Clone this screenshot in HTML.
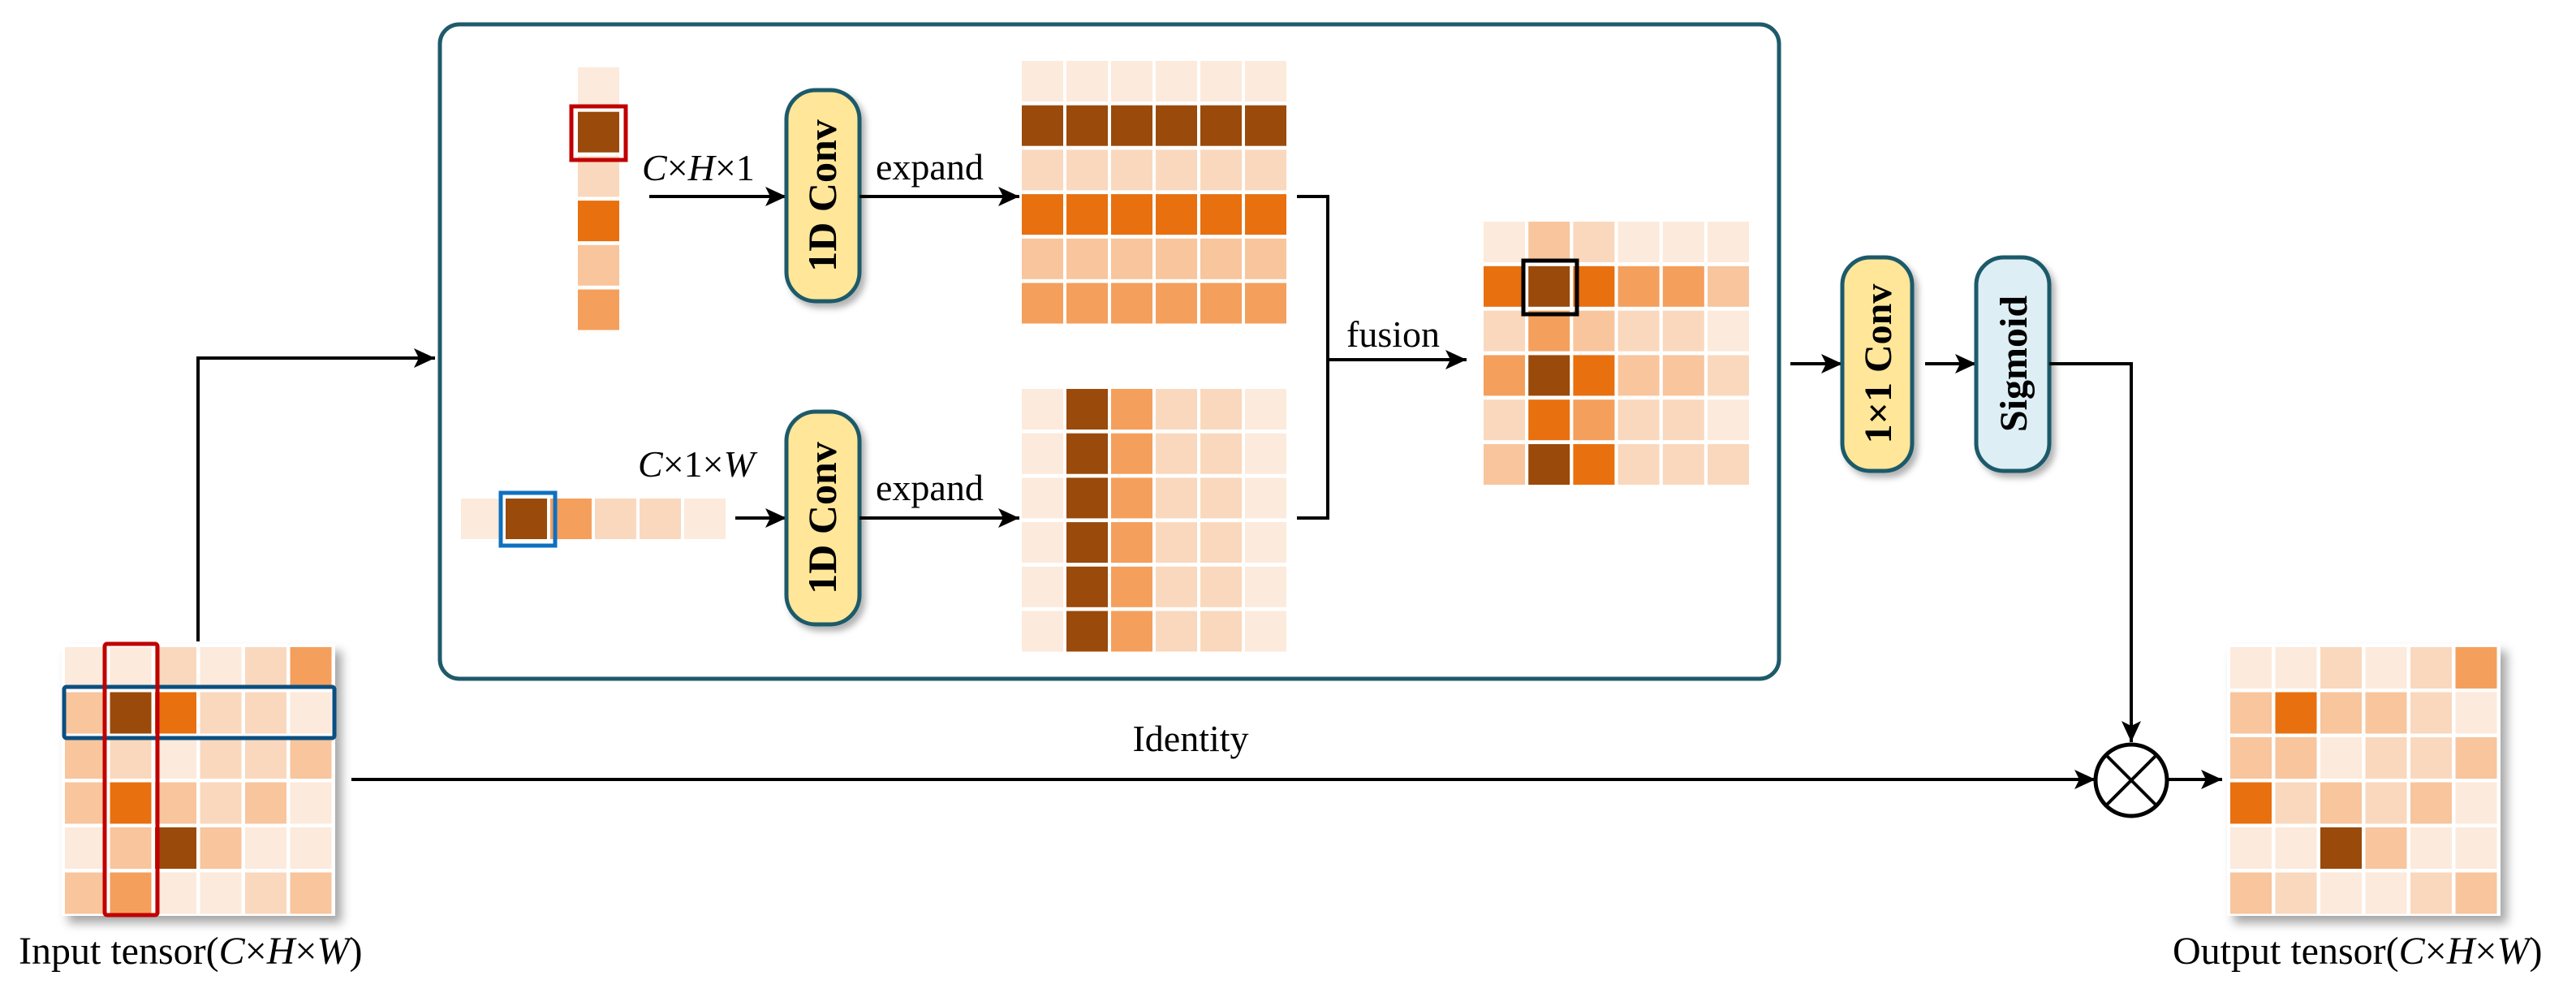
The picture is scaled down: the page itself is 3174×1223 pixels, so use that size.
<!DOCTYPE html>
<html><head><meta charset="utf-8"><style>
html,body{margin:0;padding:0;background:#fff}
svg{display:block}
.a{fill:#FCEADC}.b{fill:#FAD8BD}.c{fill:#F8C59D}.d{fill:#F49F5C}.e{fill:#E8700F}.f{fill:#9A4A0A}
text{font-family:"Liberation Serif",serif;fill:#000}
.ln{stroke:#000;stroke-width:4;fill:none}
</style></head><body>
<svg width="3174" height="1223" viewBox="0 0 3174 1223" xmlns="http://www.w3.org/2000/svg">
<defs>
<marker id="ar" markerUnits="userSpaceOnUse" markerWidth="28" markerHeight="24" refX="26" refY="12" orient="auto"><path d="M0,0 L26,12 L0,24 L6,12 Z" fill="#000"/></marker>
<filter id="sh" x="-10%" y="-10%" width="130%" height="130%"><feDropShadow dx="8" dy="9" stdDeviation="6" flood-color="#000" flood-opacity="0.35"/></filter>
<filter id="sh2" x="-20%" y="-10%" width="150%" height="130%"><feDropShadow dx="5" dy="6" stdDeviation="4" flood-color="#000" flood-opacity="0.3"/></filter>
</defs>

<!-- main box -->
<rect x="542" y="30" width="1650" height="806" rx="24" fill="#fff" stroke="#1F5A6A" stroke-width="5"/>

<!-- input grid -->
<g transform="translate(80,797)">
<rect x="-4" y="-4" width="337" height="335" fill="#fff" filter="url(#sh)"/>
<rect class="a" x="0" y="0" width="51" height="51"/><rect class="a" x="55.5" y="0" width="51" height="51"/><rect class="b" x="111" y="0" width="51" height="51"/><rect class="a" x="166.5" y="0" width="51" height="51"/><rect class="b" x="222" y="0" width="51" height="51"/><rect class="d" x="277.5" y="0" width="51" height="51"/>
<rect class="c" x="0" y="55.5" width="51" height="51"/><rect class="f" x="55.5" y="55.5" width="51" height="51"/><rect class="e" x="111" y="55.5" width="51" height="51"/><rect class="b" x="166.5" y="55.5" width="51" height="51"/><rect class="b" x="222" y="55.5" width="51" height="51"/><rect class="a" x="277.5" y="55.5" width="51" height="51"/>
<rect class="c" x="0" y="111" width="51" height="51"/><rect class="b" x="55.5" y="111" width="51" height="51"/><rect class="a" x="111" y="111" width="51" height="51"/><rect class="b" x="166.5" y="111" width="51" height="51"/><rect class="b" x="222" y="111" width="51" height="51"/><rect class="c" x="277.5" y="111" width="51" height="51"/>
<rect class="c" x="0" y="166.5" width="51" height="51"/><rect class="e" x="55.5" y="166.5" width="51" height="51"/><rect class="c" x="111" y="166.5" width="51" height="51"/><rect class="b" x="166.5" y="166.5" width="51" height="51"/><rect class="c" x="222" y="166.5" width="51" height="51"/><rect class="a" x="277.5" y="166.5" width="51" height="51"/>
<rect class="a" x="0" y="222" width="51" height="51"/><rect class="c" x="55.5" y="222" width="51" height="51"/><rect class="f" x="111" y="222" width="51" height="51"/><rect class="c" x="166.5" y="222" width="51" height="51"/><rect class="a" x="222" y="222" width="51" height="51"/><rect class="a" x="277.5" y="222" width="51" height="51"/>
<rect class="c" x="0" y="277.5" width="51" height="51"/><rect class="d" x="55.5" y="277.5" width="51" height="51"/><rect class="a" x="111" y="277.5" width="51" height="51"/><rect class="a" x="166.5" y="277.5" width="51" height="51"/><rect class="b" x="222" y="277.5" width="51" height="51"/><rect class="c" x="277.5" y="277.5" width="51" height="51"/>
</g>
<rect x="79" y="846" width="333" height="63" rx="3" fill="none" stroke="#0B4F80" stroke-width="5"/>
<rect x="129" y="793" width="65" height="334" rx="3" fill="none" stroke="#C00000" stroke-width="5"/>
<text x="23" y="1187" font-size="48">Input tensor(<tspan font-style="italic">C</tspan>×<tspan font-style="italic">H</tspan>×<tspan font-style="italic">W</tspan>)</text>

<!-- left connector -->
<path class="ln" d="M244,790 L244,441 L536,441" marker-end="url(#ar)"/>
<!-- identity -->
<path class="ln" d="M433,960 L2582,960" marker-end="url(#ar)"/>
<text x="1467" y="925" font-size="46" text-anchor="middle">Identity</text>

<!-- top strip -->
<g transform="translate(712,83)">
<rect class="a" x="0" y="0" width="51" height="50"/><rect class="f" x="0" y="54.7" width="51" height="50"/><rect class="b" x="0" y="109.4" width="51" height="50"/><rect class="e" x="0" y="164.1" width="51" height="50"/><rect class="c" x="0" y="218.8" width="51" height="50"/><rect class="d" x="0" y="273.5" width="51" height="50"/>
</g>
<rect x="704" y="131" width="67" height="66" fill="none" stroke="#C00000" stroke-width="5"/>
<text x="791" y="222" font-size="46"><tspan font-style="italic">C</tspan>×<tspan font-style="italic">H</tspan>×1</text>
<path class="ln" d="M800,242 L969,242" marker-end="url(#ar)"/>
<rect x="969" y="111" width="90" height="260" rx="36" fill="#FFE699" stroke="#1F5A6A" stroke-width="5" filter="url(#sh2)"/>
<text transform="translate(1030,241) rotate(-90)" font-size="50" font-weight="bold" text-anchor="middle">1D Conv</text>
<path class="ln" d="M1059,242 L1256,242" marker-end="url(#ar)"/>
<text x="1079" y="221" font-size="46">expand</text>

<!-- top grid -->
<g transform="translate(1259,75)">
<rect class="a" x="0" y="0" width="51" height="50"/><rect class="a" x="55" y="0" width="51" height="50"/><rect class="a" x="110" y="0" width="51" height="50"/><rect class="a" x="165" y="0" width="51" height="50"/><rect class="a" x="220" y="0" width="51" height="50"/><rect class="a" x="275" y="0" width="51" height="50"/>
<rect class="f" x="0" y="54.7" width="51" height="50"/><rect class="f" x="55" y="54.7" width="51" height="50"/><rect class="f" x="110" y="54.7" width="51" height="50"/><rect class="f" x="165" y="54.7" width="51" height="50"/><rect class="f" x="220" y="54.7" width="51" height="50"/><rect class="f" x="275" y="54.7" width="51" height="50"/>
<rect class="b" x="0" y="109.4" width="51" height="50"/><rect class="b" x="55" y="109.4" width="51" height="50"/><rect class="b" x="110" y="109.4" width="51" height="50"/><rect class="b" x="165" y="109.4" width="51" height="50"/><rect class="b" x="220" y="109.4" width="51" height="50"/><rect class="b" x="275" y="109.4" width="51" height="50"/>
<rect class="e" x="0" y="164.1" width="51" height="50"/><rect class="e" x="55" y="164.1" width="51" height="50"/><rect class="e" x="110" y="164.1" width="51" height="50"/><rect class="e" x="165" y="164.1" width="51" height="50"/><rect class="e" x="220" y="164.1" width="51" height="50"/><rect class="e" x="275" y="164.1" width="51" height="50"/>
<rect class="c" x="0" y="218.8" width="51" height="50"/><rect class="c" x="55" y="218.8" width="51" height="50"/><rect class="c" x="110" y="218.8" width="51" height="50"/><rect class="c" x="165" y="218.8" width="51" height="50"/><rect class="c" x="220" y="218.8" width="51" height="50"/><rect class="c" x="275" y="218.8" width="51" height="50"/>
<rect class="d" x="0" y="273.5" width="51" height="50"/><rect class="d" x="55" y="273.5" width="51" height="50"/><rect class="d" x="110" y="273.5" width="51" height="50"/><rect class="d" x="165" y="273.5" width="51" height="50"/><rect class="d" x="220" y="273.5" width="51" height="50"/><rect class="d" x="275" y="273.5" width="51" height="50"/>
</g>

<!-- bottom strip -->
<g transform="translate(568,614)">
<rect class="a" x="0" y="0" width="51" height="50"/><rect class="f" x="55" y="0" width="51" height="50"/><rect class="d" x="110" y="0" width="51" height="50"/><rect class="b" x="165" y="0" width="51" height="50"/><rect class="b" x="220" y="0" width="51" height="50"/><rect class="a" x="275" y="0" width="51" height="50"/>
</g>
<rect x="617" y="607" width="67" height="65" fill="none" stroke="#0F70C0" stroke-width="5"/>
<text x="786" y="587" font-size="46"><tspan font-style="italic">C</tspan>×1×<tspan font-style="italic">W</tspan></text>
<path class="ln" d="M906,638 L969,638" marker-end="url(#ar)"/>
<rect x="969" y="507" width="90" height="262" rx="36" fill="#FFE699" stroke="#1F5A6A" stroke-width="5" filter="url(#sh2)"/>
<text transform="translate(1030,638) rotate(-90)" font-size="50" font-weight="bold" text-anchor="middle">1D Conv</text>
<path class="ln" d="M1059,638 L1256,638" marker-end="url(#ar)"/>
<text x="1079" y="616" font-size="46">expand</text>

<!-- bottom grid -->
<g transform="translate(1259,479)">
<rect class="a" x="0" y="0" width="51" height="50"/><rect class="f" x="55" y="0" width="51" height="50"/><rect class="d" x="110" y="0" width="51" height="50"/><rect class="b" x="165" y="0" width="51" height="50"/><rect class="b" x="220" y="0" width="51" height="50"/><rect class="a" x="275" y="0" width="51" height="50"/>
<rect class="a" x="0" y="54.7" width="51" height="50"/><rect class="f" x="55" y="54.7" width="51" height="50"/><rect class="d" x="110" y="54.7" width="51" height="50"/><rect class="b" x="165" y="54.7" width="51" height="50"/><rect class="b" x="220" y="54.7" width="51" height="50"/><rect class="a" x="275" y="54.7" width="51" height="50"/>
<rect class="a" x="0" y="109.4" width="51" height="50"/><rect class="f" x="55" y="109.4" width="51" height="50"/><rect class="d" x="110" y="109.4" width="51" height="50"/><rect class="b" x="165" y="109.4" width="51" height="50"/><rect class="b" x="220" y="109.4" width="51" height="50"/><rect class="a" x="275" y="109.4" width="51" height="50"/>
<rect class="a" x="0" y="164.1" width="51" height="50"/><rect class="f" x="55" y="164.1" width="51" height="50"/><rect class="d" x="110" y="164.1" width="51" height="50"/><rect class="b" x="165" y="164.1" width="51" height="50"/><rect class="b" x="220" y="164.1" width="51" height="50"/><rect class="a" x="275" y="164.1" width="51" height="50"/>
<rect class="a" x="0" y="218.8" width="51" height="50"/><rect class="f" x="55" y="218.8" width="51" height="50"/><rect class="d" x="110" y="218.8" width="51" height="50"/><rect class="b" x="165" y="218.8" width="51" height="50"/><rect class="b" x="220" y="218.8" width="51" height="50"/><rect class="a" x="275" y="218.8" width="51" height="50"/>
<rect class="a" x="0" y="273.5" width="51" height="50"/><rect class="f" x="55" y="273.5" width="51" height="50"/><rect class="d" x="110" y="273.5" width="51" height="50"/><rect class="b" x="165" y="273.5" width="51" height="50"/><rect class="b" x="220" y="273.5" width="51" height="50"/><rect class="a" x="275" y="273.5" width="51" height="50"/>
</g>

<!-- bracket + fusion -->
<path class="ln" d="M1598,242 L1636,242 L1636,638 L1598,638"/>
<path class="ln" d="M1636,443 L1807,443" marker-end="url(#ar)"/>
<text x="1659" y="427" font-size="46">fusion</text>

<!-- fused grid -->
<g transform="translate(1828,273)">
<rect class="a" x="0" y="0" width="51" height="50"/><rect class="c" x="55.2" y="0" width="51" height="50"/><rect class="b" x="110.4" y="0" width="51" height="50"/><rect class="a" x="165.6" y="0" width="51" height="50"/><rect class="a" x="220.8" y="0" width="51" height="50"/><rect class="a" x="276" y="0" width="51" height="50"/>
<rect class="e" x="0" y="54.8" width="51" height="50"/><rect class="f" x="55.2" y="54.8" width="51" height="50"/><rect class="e" x="110.4" y="54.8" width="51" height="50"/><rect class="d" x="165.6" y="54.8" width="51" height="50"/><rect class="d" x="220.8" y="54.8" width="51" height="50"/><rect class="c" x="276" y="54.8" width="51" height="50"/>
<rect class="b" x="0" y="109.6" width="51" height="50"/><rect class="d" x="55.2" y="109.6" width="51" height="50"/><rect class="c" x="110.4" y="109.6" width="51" height="50"/><rect class="b" x="165.6" y="109.6" width="51" height="50"/><rect class="b" x="220.8" y="109.6" width="51" height="50"/><rect class="a" x="276" y="109.6" width="51" height="50"/>
<rect class="d" x="0" y="164.4" width="51" height="50"/><rect class="f" x="55.2" y="164.4" width="51" height="50"/><rect class="e" x="110.4" y="164.4" width="51" height="50"/><rect class="c" x="165.6" y="164.4" width="51" height="50"/><rect class="c" x="220.8" y="164.4" width="51" height="50"/><rect class="b" x="276" y="164.4" width="51" height="50"/>
<rect class="b" x="0" y="219.2" width="51" height="50"/><rect class="e" x="55.2" y="219.2" width="51" height="50"/><rect class="d" x="110.4" y="219.2" width="51" height="50"/><rect class="b" x="165.6" y="219.2" width="51" height="50"/><rect class="b" x="220.8" y="219.2" width="51" height="50"/><rect class="a" x="276" y="219.2" width="51" height="50"/>
<rect class="c" x="0" y="274" width="51" height="50"/><rect class="f" x="55.2" y="274" width="51" height="50"/><rect class="e" x="110.4" y="274" width="51" height="50"/><rect class="b" x="165.6" y="274" width="51" height="50"/><rect class="b" x="220.8" y="274" width="51" height="50"/><rect class="b" x="276" y="274" width="51" height="50"/>
</g>
<rect x="1877" y="321" width="66" height="66" fill="none" stroke="#000" stroke-width="5"/>

<!-- 1x1 conv & sigmoid -->
<path class="ln" d="M2206,448 L2270,448" marker-end="url(#ar)"/>
<rect x="2270" y="317" width="86" height="263" rx="34" fill="#FFE699" stroke="#1F5A6A" stroke-width="5" filter="url(#sh2)"/>
<text transform="translate(2330,448) rotate(-90)" font-size="48" font-weight="bold" text-anchor="middle">1×1 Conv</text>
<path class="ln" d="M2372,448 L2435,448" marker-end="url(#ar)"/>
<rect x="2435" y="317" width="90" height="263" rx="34" fill="#DDEEF4" stroke="#1F5A6A" stroke-width="5" filter="url(#sh2)"/>
<text transform="translate(2497,448) rotate(-90)" font-size="48" font-weight="bold" text-anchor="middle">Sigmoid</text>
<path class="ln" d="M2525,448 L2626,448 L2626,914" marker-end="url(#ar)"/>

<!-- multiply -->
<circle cx="2626" cy="961" r="44" fill="#fff" stroke="#000" stroke-width="5"/>
<path d="M2595,930 L2657,992 M2657,930 L2595,992" stroke="#000" stroke-width="4"/>
<path class="ln" d="M2670,960 L2738,960" marker-end="url(#ar)"/>

<!-- output grid -->
<g transform="translate(2748,797)">
<rect x="-4" y="-4" width="337" height="335" fill="#fff" filter="url(#sh)"/>
<rect class="a" x="0" y="0" width="51" height="51"/><rect class="a" x="55.5" y="0" width="51" height="51"/><rect class="b" x="111" y="0" width="51" height="51"/><rect class="a" x="166.5" y="0" width="51" height="51"/><rect class="b" x="222" y="0" width="51" height="51"/><rect class="d" x="277.5" y="0" width="51" height="51"/>
<rect class="c" x="0" y="55.5" width="51" height="51"/><rect class="e" x="55.5" y="55.5" width="51" height="51"/><rect class="c" x="111" y="55.5" width="51" height="51"/><rect class="c" x="166.5" y="55.5" width="51" height="51"/><rect class="b" x="222" y="55.5" width="51" height="51"/><rect class="a" x="277.5" y="55.5" width="51" height="51"/>
<rect class="c" x="0" y="111" width="51" height="51"/><rect class="c" x="55.5" y="111" width="51" height="51"/><rect class="a" x="111" y="111" width="51" height="51"/><rect class="b" x="166.5" y="111" width="51" height="51"/><rect class="b" x="222" y="111" width="51" height="51"/><rect class="c" x="277.5" y="111" width="51" height="51"/>
<rect class="e" x="0" y="166.5" width="51" height="51"/><rect class="b" x="55.5" y="166.5" width="51" height="51"/><rect class="c" x="111" y="166.5" width="51" height="51"/><rect class="b" x="166.5" y="166.5" width="51" height="51"/><rect class="c" x="222" y="166.5" width="51" height="51"/><rect class="a" x="277.5" y="166.5" width="51" height="51"/>
<rect class="a" x="0" y="222" width="51" height="51"/><rect class="a" x="55.5" y="222" width="51" height="51"/><rect class="f" x="111" y="222" width="51" height="51"/><rect class="c" x="166.5" y="222" width="51" height="51"/><rect class="a" x="222" y="222" width="51" height="51"/><rect class="a" x="277.5" y="222" width="51" height="51"/>
<rect class="c" x="0" y="277.5" width="51" height="51"/><rect class="b" x="55.5" y="277.5" width="51" height="51"/><rect class="a" x="111" y="277.5" width="51" height="51"/><rect class="a" x="166.5" y="277.5" width="51" height="51"/><rect class="b" x="222" y="277.5" width="51" height="51"/><rect class="c" x="277.5" y="277.5" width="51" height="51"/>
</g>
<text x="2677" y="1187" font-size="48">Output tensor(<tspan font-style="italic">C</tspan>×<tspan font-style="italic">H</tspan>×<tspan font-style="italic">W</tspan>)</text>
</svg>
</body></html>
